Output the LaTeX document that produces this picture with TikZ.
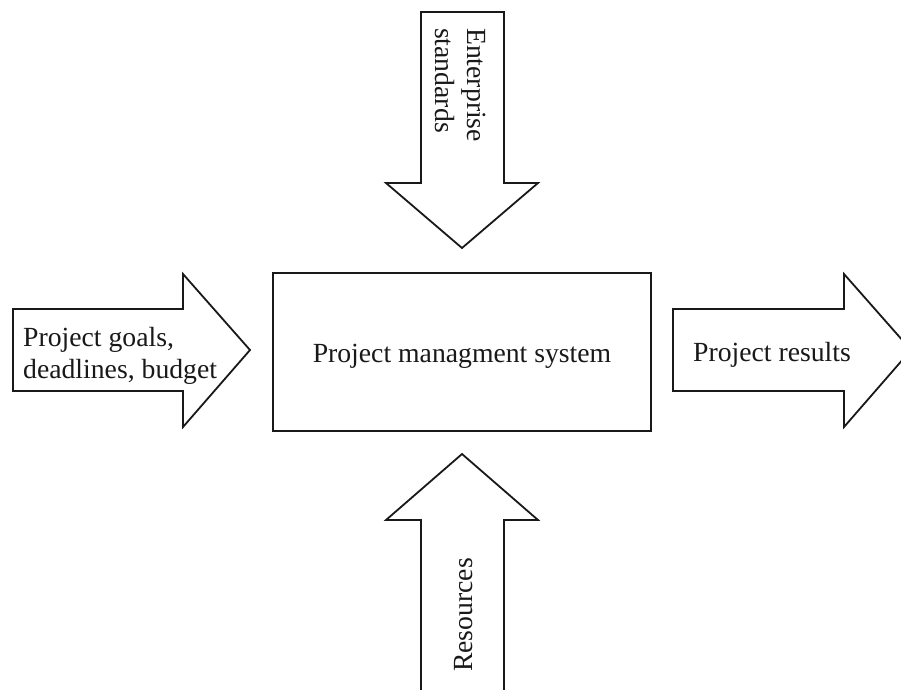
\documentclass[tikz,border=0pt]{standalone}
\usepackage{fontspec}
\setmainfont{Liberation Serif}
\begin{document}
\begin{tikzpicture}[x=1pt,y=-1pt,
  outline/.style={draw=black!90,line width=1.8pt,line join=miter,fill=white},
  lbl/.style={inner sep=0pt,font=\fontsize{27.7}{32}\selectfont,text=black!90}]
\useasboundingbox (0,0) rectangle (901,689);
% top arrow
\draw[outline] (421,12) -- (504,12) -- (504,183) -- (538,183) -- (462,248) -- (386,183) -- (421,183) -- cycle;
% left arrow
\draw[outline] (13,309) -- (183,309) -- (183,274) -- (250,350) -- (183,427) -- (183,391) -- (13,391) -- cycle;
% right arrow
\draw[outline] (673,309) -- (844,309) -- (844,274) -- (911,350) -- (844,427) -- (844,391) -- (673,391) -- cycle;
% bottom arrow
\draw[outline] (421,700) -- (421,520) -- (386,520) -- (462,454) -- (538,520) -- (504,520) -- (504,700);
% main box
\node[draw=black!90,line width=1.8pt,minimum width=378pt,minimum height=158pt,inner sep=0pt] (pms) at (462,352) {};
\node[lbl,anchor=base] (pmstext) at (462,362) {Project managment system};
\node[lbl,anchor=north west,align=left] (goals) at (23,327) {Project goals,\\deadlines, budget};
\node[lbl,anchor=base] (results) at (772,361) {Project results};
\node[lbl,anchor=north west,align=left,rotate=-90] (standards) at (486,28) {Enterprise\\standards};
\node[lbl,anchor=base west,rotate=90] (resources) at (472,672) {Resources};
\end{tikzpicture}
\end{document}
